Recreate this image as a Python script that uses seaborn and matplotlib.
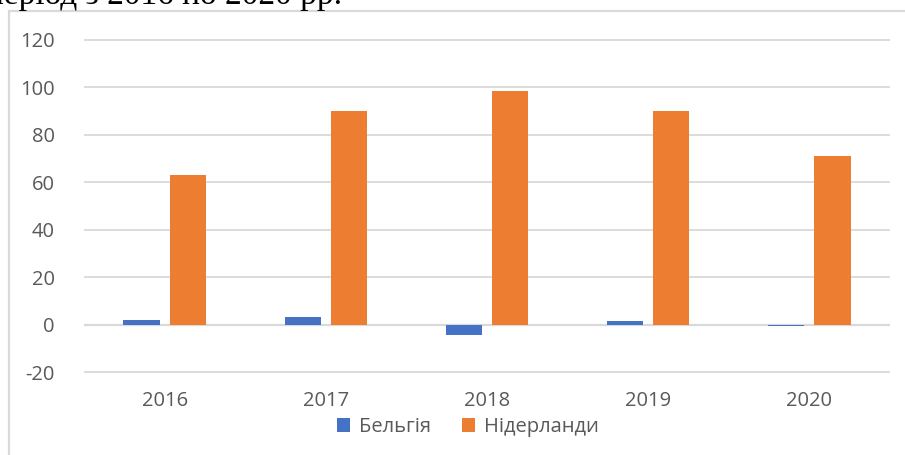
import matplotlib
matplotlib.use("Agg")
import matplotlib.pyplot as plt
import seaborn as sns
import pandas as pd
from matplotlib.patches import Rectangle, Patch

years = ["2016", "2017", "2018", "2019", "2020"]
belgium = [2.1, 3.3, -4.2, 1.6, -0.6]
netherlands = [63, 90, 98.5, 90, 71]
series_names = ["Бельгія", "Нідерланди"]
colors = ["#4472C4", "#ED7D31"]
yticks = [-20, 0, 20, 40, 60, 80, 100, 120]
header = "період з 2016 по 2020 рр."

df = pd.DataFrame({
    "year": years * 2,
    "value": belgium + netherlands,
    "series": [series_names[0]] * len(years) + [series_names[1]] * len(years),
})

sns.set_style("white")
plt.rcParams["font.family"] = ["Open Sans", "DejaVu Sans"]

W, H = 905, 455
fig = plt.figure(figsize=(W / 100, H / 100), dpi=100)

ax = fig.add_axes([84 / W, 80.6 / H, 806 / W, (374.4 - 37.6) / H])
sns.barplot(data=df, x="year", y="value", hue="series", palette=colors,
            width=0.572, gap=0.217, ax=ax, legend=False, saturation=1,
            edgecolor="none")
ax.set_xlim(-0.5, 4.5)
ax.set_ylim(-21, 121)
ax.set_yticks(yticks)
ax.set_yticklabels([str(v) for v in yticks])
ax.grid(axis="y", color="#d9d9d9", linewidth=1.3)
ax.set_axisbelow(True)
for s in ax.spines.values():
    s.set_visible(False)
ax.set_xlabel("")
ax.set_ylabel("")
ax.tick_params(axis="both", length=0, labelsize=14.5, labelcolor="#595959")
ax.tick_params(axis="y", pad=21)
ax.tick_params(axis="x", pad=12)
ax.axhline(0, color="#d9d9d9", linewidth=1.6, zorder=0.5)

# chart frame
fig.patches.append(Rectangle((8.5 / W, -0.1), 1.2, 1.1 - 11.5 / H,
                             transform=fig.transFigure, fill=False,
                             edgecolor="#d9d9d9", linewidth=1.6))

handles = [Patch(facecolor=c, edgecolor="none") for c in colors]
fig.legend(handles, series_names, loc="center", bbox_to_anchor=(468 / W, 1 - 427 / H),
           ncol=2, frameon=False, fontsize=14.5, labelcolor="#595959",
           handlelength=0.65, handleheight=0.65, handletextpad=0.45, columnspacing=1.5)

fig.text(342 / W, 1 - 4 / H, header, family=["Liberation Serif"], fontsize=24,
         va="baseline", ha="right", color="black")

fig.savefig("out.png", dpi=100)
